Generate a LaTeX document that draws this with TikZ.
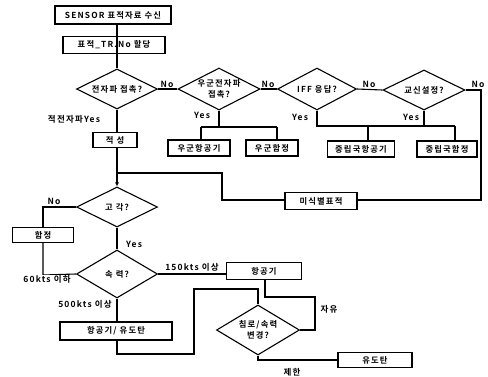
\documentclass[tikz,border=0pt]{standalone}
\usepackage{fontspec}
\setmainfont{Noto Sans CJK KR}[BoldFont={Noto Sans CJK KR Bold}, LetterSpace=14]
\usetikzlibrary{shapes.geometric,arrows.meta}
\tikzset{
  flow/.style={line width=1.1pt},
  boxn/.style={draw, line width=1.1pt, rectangle, inner sep=0pt, font=\fontsize{8.3}{9}\selectfont\bfseries},
  dia/.style={draw, line width=1.1pt, diamond, inner sep=0pt, aspect=2, align=center, font=\fontsize{8.3}{11}\selectfont\bfseries},
  lab/.style={inner sep=0.5pt, font=\fontsize{8.5}{9}\selectfont\bfseries}
}
\begin{document}
\begin{tikzpicture}[x=1pt,y=-1pt]
\useasboundingbox (0,0) rectangle (488,376);
% boxes
\node[boxn, minimum width=116pt, minimum height=18pt] (s1) at (113,15) {SENSOR 표적자료 수신};
\node[boxn, minimum width=102pt, minimum height=17pt] (s2) at (114,45) {표적\_TR.No 할당};
\node[dia, minimum width=81pt, minimum height=40pt] (d1) at (117,89) {전자파 접촉?};
\node[dia, minimum width=82pt, minimum height=42pt] (d2) at (219,89) {우군전자파\\접촉?};
\node[dia, minimum width=79pt, minimum height=42pt] (d3) at (317,89) {IFF 응답?};
\node[dia, minimum width=82pt, minimum height=40pt] (d4) at (424,90) {교신설정?};
\node[boxn, minimum width=62pt, minimum height=16pt] (fa) at (199,148) {우군항공기};
\node[boxn, minimum width=52pt, minimum height=16pt] (fs) at (272,148) {우군함정};
\node[boxn, minimum width=67pt, minimum height=16pt] (na) at (361,149) {중립국항공기};
\node[boxn, minimum width=60pt, minimum height=16pt] (ns) at (447,149) {중립국함정};
\node[boxn, minimum width=44pt, minimum height=15pt] (en) at (115,140) {적 성};
\node[boxn, minimum width=72pt, minimum height=17pt] (un) at (321,201) {미식별표적};
\node[dia, minimum width=81pt, minimum height=40pt] (d5) at (117,207) {고 각?};
\node[boxn, minimum width=61pt, minimum height=15pt] (sh) at (43,235) {함정};
\node[dia, minimum width=81pt, minimum height=48pt] (d6) at (117,274) {속 력?};
\node[boxn, minimum width=75pt, minimum height=17pt] (ac) at (264,271) {항공기};
\node[boxn, minimum width=112pt, minimum height=18pt] (am) at (116,331) {항공기/ 유도탄};
\node[dia, minimum width=83pt, minimum height=50pt] (d7) at (258,330) {침로/속력\\변경?};
\node[boxn, minimum width=74pt, minimum height=15pt] (ms) at (375,360) {유도탄};
% coordinates
\coordinate (j1) at (117,173);
\coordinate (c1) at (481,90);
\coordinate (c2) at (481,200);
\coordinate (m1) at (222,200);
\coordinate (m2) at (222,173);
% connectors
\draw[flow] (s1.south -| d1.north) -- (s2.south -| d1.north) -- (d1.north);
\draw[flow] (d1.east) -- (d2.west);
\draw[flow] (d2.east) -- (d3.west);
\draw[flow] (d3.east) -- (d4.west);
\draw[flow] (d4.east) -- (c1) -- (c2) -- (un.east |- c2);
\draw[flow] (d1.south) -- (en.north -| d1.south);
\draw[flow] (d2.south) -- (219,127);
\draw[flow] (201,127) -- (277,127);
\draw[flow] (201,127) -- (fa.north -| 201,0);
\draw[flow] (277,127) -- (fs.north -| 277,0);
\draw[flow] (d3.south) -- (317,126) -- (455,126);
\draw[flow] (d4.south) -- (424,126);
\draw[flow] (368,126) -- (na.north -| 368,0);
\draw[flow] (455,126) -- (ns.north -| 455,0);
\draw[flow] (un.west |- m1) -- (m1) -- (m2) -- (j1);
\draw[flow, -{Latex[length=4pt,width=4pt]}] (en.south -| d5.north) -- (d5.north);
\draw[flow] (d5.west) -- (43,207) -- (sh.north);
\draw[flow] (d5.south) -- (d6.north);
\draw[flow] (sh.south) -- (43,275) -- (d6.west);
\draw[flow] (d6.east) -- (ac.west |- d6.east);
\draw[flow] (d6.south) -- (am.north -| d6.south);
\draw[flow] (am.south -| d6.south) -- (117,354) -- (194,354) -- (194,289) -- (258,289) -- (d7.north);
\draw[flow] (ac.south -| 265,0) -- (265,297) -- (315,297) -- (315,330) -- (d7.east);
\draw[flow] (d7.south) -- (258,360) -- (ms.west |- 0,360);
% labels
\node[lab] (l1) at (167,84) {No};
\node[lab] (l2) at (268,84) {No};
\node[lab] (l3) at (369,84) {No};
\node[lab] (l4) at (478,84) {No};
\node[lab] (l5) at (74,119) {적전자파Yes};
\node[lab] (l6) at (202,115) {Yes};
\node[lab] (l7) at (300,117) {Yes};
\node[lab] (l8) at (411,117) {Yes};
\node[lab] (l9) at (54,201) {No};
\node[lab] (l10) at (134,244) {Yes};
\node[lab, fill=white] (l11) at (47,279) {60kts 이하};
\node[lab] (l12) at (192,267) {150kts 이상};
\node[lab] (l13) at (85,304) {500kts 이상};
\node[lab] (l14) at (329,309) {자유};
\node[lab] (l15) at (292,372) {제한};
\end{tikzpicture}
\end{document}
